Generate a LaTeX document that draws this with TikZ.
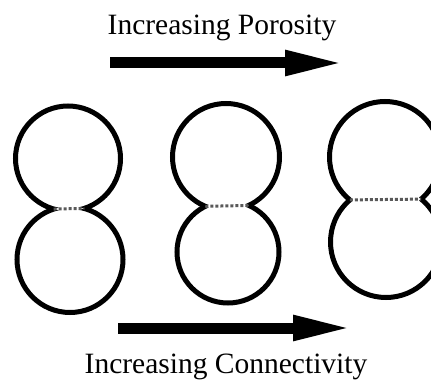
\documentclass[tikz,border=0pt]{standalone}
\usepackage{fontspec}
\setmainfont{Liberation Serif}
\usetikzlibrary{positioning, arrows.meta, intersections}

\begin{document}
\begin{tikzpicture}[x=1pt, y=1pt,
  caption/.style={font=\fontsize{29.5}{34}\selectfont, inner sep=0pt, anchor=base},
  grain/.style={line width=5pt},
  neck/.style={line width=3pt, dash pattern=on 3pt off 2pt, black!65},
  bigarrow/.style={line width=11pt, -{Triangle[length=60pt, width=23pt]}}]
  \useasboundingbox (0,0) rectangle (431,381);
  \clip (0,0) rectangle (431,381);
  % labels and arrows
  \node[caption] (porosity) at (222,346) {Increasing Porosity};
  \node[caption] (connect) at (226,8) {Increasing Connectivity};
  \coordinate (pstart) at (110,318); \coordinate (pend) at (345,318);
  \coordinate (cstart) at (118,53);  \coordinate (cend) at (353,53);
  \draw[bigarrow] (pstart) -- (pend);
  \draw[bigarrow] (cstart) -- (cend);
  % pairs of grains: top x/top y/top r/bottom x/bottom y/bottom r
  \foreach \xa/\ya/\ra/\xb/\yb/\rb in {68/222.5/52.5/70/121.5/53, 226/224/53.5/228/129/51, 385/224/55.5/386/139/55.5} {
    \path[name path=uppergrain] (\xa,\ya) circle (\ra);
    \path[name path=lowergrain] (\xb,\yb) circle (\rb);
    \begin{scope}[even odd rule]
      \clip (0,0) rectangle (431,381) (\xb,\yb) circle (\rb);
      \draw[grain] (\xa,\ya) circle (\ra);
    \end{scope}
    \begin{scope}[even odd rule]
      \clip (0,0) rectangle (431,381) (\xa,\ya) circle (\ra);
      \draw[grain] (\xb,\yb) circle (\rb);
    \end{scope}
    \path[name intersections={of=uppergrain and lowergrain, by={necka,neckb}}];
    \draw[neck] (necka) -- (neckb);
  }
\end{tikzpicture}
\end{document}
